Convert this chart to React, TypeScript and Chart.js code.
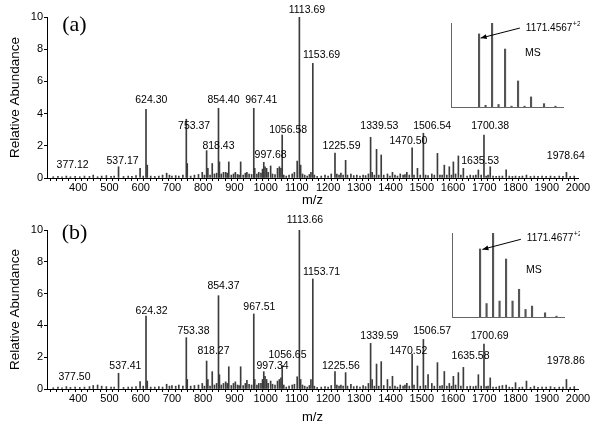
import React, { useEffect, useRef } from "react";
import { Chart, registerables } from "chart.js";

Chart.register(...registerables);

const FONT = "'Liberation Sans', Arial, sans-serif";

// ---- axes ----
const xMin = 300;
const xMax = 2000;
const xTickLabels = [400, 500, 600, 700, 800, 900, 1000, 1100, 1200, 1300, 1400, 1500, 1600, 1700, 1800, 1900, 2000];
const xMinorStep = 20;
const yTicks = [0, 2, 4, 6, 8, 10];

// ---- spectrum peak positions (m/z) shared by both panels ----
const peakMz = [
  320, 335, 348, 362, 375, 390, 405, 420, 436, 448,
  462, 475, 490, 505, 515, 529, 545, 560, 572, 585,
  598, 608, 617, 621, 632, 645, 658, 670, 683, 692,
  700, 712, 722, 735, 746, 749, 760, 772, 785, 797,
  804, 811, 815, 822, 829, 836, 843, 849, 852, 858,
  865, 872, 877, 882, 890, 897, 903, 910, 915, 920,
  928, 935, 940, 947, 955, 962, 965, 972, 978, 985,
  990, 994, 998, 1003, 1008, 1016, 1022, 1030, 1038, 1044,
  1049, 1053, 1058, 1066, 1075, 1085, 1092, 1101, 1108, 1112,
  1118, 1125, 1133, 1140, 1145, 1151, 1156, 1165, 1178, 1190,
  1200, 1210, 1222, 1228, 1235, 1241, 1248, 1256, 1262, 1273,
  1282, 1292, 1302, 1312, 1320, 1329, 1336, 1341, 1348, 1355,
  1362, 1370, 1378, 1390, 1398, 1406, 1414, 1422, 1431, 1440,
  1446, 1452, 1460, 1469, 1475, 1486, 1495, 1505, 1512, 1520,
  1532, 1540, 1550, 1558, 1565, 1572, 1580, 1588, 1595, 1601,
  1608, 1617, 1625, 1633, 1645, 1655, 1665, 1673, 1681, 1690,
  1699, 1706, 1712, 1719, 1728, 1738, 1748, 1758, 1770, 1780,
  1790, 1800, 1812, 1822, 1835, 1848, 1860, 1872, 1885, 1898,
  1912, 1925, 1940, 1952, 1963, 1975, 1988,
];

// ---- panel (a) relative abundance ----
const abundA = [
  0.08, 0.1, 0.08, 0.12, 0.08, 0.1, 0.08, 0.12, 0.1, 0.18,
  0.08, 0.12, 0.15, 0.1, 0.12, 0.7, 0.1, 0.12, 0.1, 0.15,
  0.6, 0.12, 4.27, 0.8, 0.12, 0.1, 0.12, 0.18, 0.3, 0.18,
  0.12, 0.15, 0.12, 0.18, 3.65, 0.9, 0.12, 0.18, 0.22, 0.35,
  0.18, 1.7, 0.6, 0.18, 0.9, 0.25, 0.3, 4.33, 1.0, 0.25,
  0.35, 0.35, 0.3, 1.0, 0.18, 0.25, 0.35, 0.22, 0.18, 1.0,
  0.18, 0.3, 0.35, 0.25, 0.22, 4.33, 0.6, 0.25, 0.35, 0.3,
  0.55, 0.97, 0.7, 0.6, 0.35, 0.75, 0.25, 0.22, 0.6, 0.7,
  0.6, 2.67, 0.18, 0.12, 0.18, 0.25, 0.35, 1.05, 10, 0.8,
  0.25, 0.18, 0.12, 0.22, 0.35, 7.12, 0.18, 0.1, 0.12, 0.18,
  0.12, 0.25, 1.55, 0.25, 0.18, 0.3, 0.18, 1.1, 0.18, 0.25,
  0.15, 0.18, 0.12, 0.18, 0.15, 0.25, 2.53, 0.35, 0.18, 1.78,
  0.18, 1.43, 0.18, 0.25, 0.12, 0.35, 0.18, 0.12, 0.25, 0.18,
  0.22, 0.35, 0.18, 1.88, 0.18, 0.6, 0.18, 2.78, 0.18, 0.15,
  0.25, 0.18, 1.53, 0.18, 0.18, 0.8, 0.18, 0.7, 0.18, 1.0,
  0.25, 1.37, 0.18, 0.6, 0.12, 0.18, 0.15, 0.18, 0.5, 0.18,
  2.67, 0.12, 0.18, 0.7, 0.12, 0.1, 0.12, 0.12, 0.5, 0.12,
  0.1, 0.12, 0.1, 0.12, 0.18, 0.1, 0.12, 0.1, 0.12, 0.1,
  0.12, 0.1, 0.12, 0.1, 0.35, 0.1, 0.12,
];

// ---- panel (b) relative abundance ----
const abundB = [
  0.08, 0.12, 0.08, 0.15, 0.1, 0.12, 0.1, 0.12, 0.15, 0.22,
  0.25, 0.18, 0.15, 0.12, 0.12, 0.99, 0.1, 0.12, 0.12, 0.15,
  0.46, 0.18, 4.59, 0.5, 0.12, 0.12, 0.15, 0.12, 0.3, 0.18,
  0.22, 0.18, 0.25, 0.18, 3.23, 0.6, 0.18, 0.22, 0.25, 0.35,
  0.18, 1.76, 0.6, 0.18, 1.09, 0.25, 0.35, 5.87, 0.9, 0.25,
  0.35, 0.45, 0.35, 1.4, 0.22, 0.35, 0.45, 0.25, 0.22, 1.4,
  0.22, 0.35, 0.55, 0.3, 0.25, 4.72, 0.6, 0.25, 0.35, 0.35,
  0.6, 1.09, 0.8, 0.6, 0.35, 0.5, 0.3, 0.25, 0.5, 0.6,
  0.7, 1.47, 0.25, 0.12, 0.18, 0.25, 0.3, 0.77, 10, 0.6,
  0.25, 0.18, 0.12, 0.22, 0.6, 6.92, 0.18, 0.1, 0.12, 0.15,
  0.12, 0.22, 1.09, 0.25, 0.18, 0.25, 0.18, 1.03, 0.18, 0.3,
  0.15, 0.18, 0.12, 0.22, 0.15, 0.35, 2.87, 0.6, 0.18, 1.57,
  0.18, 1.72, 0.22, 0.6, 0.15, 0.8, 0.18, 0.12, 0.25, 0.18,
  0.25, 0.35, 0.18, 2.2, 0.25, 1.45, 0.18, 3.12, 0.22, 0.9,
  0.35, 0.18, 1.66, 0.18, 0.22, 1.1, 0.18, 0.35, 0.18, 0.8,
  0.25, 1.03, 0.18, 1.36, 0.15, 0.18, 0.15, 0.18, 0.9, 0.18,
  2.83, 0.15, 0.18, 0.7, 0.12, 0.12, 0.18, 0.22, 0.25, 0.12,
  0.1, 0.4, 0.1, 0.12, 0.5, 0.1, 0.18, 0.1, 0.12, 0.12,
  0.15, 0.1, 0.12, 0.12, 0.6, 0.1, 0.15,
];

// ---- peak annotations (text, anchor m/z, anchor abundance) ----
const labelTextA = ["377.12", "537.17", "624.30", "753.37", "818.43", "854.40", "967.41", "997.68", "1056.58", "1113.69", "1153.69", "1225.59", "1339.53", "1470.50", "1506.54", "1635.53", "1700.38", "1978.64"];
const labelMzA = [382, 542, 634, 771, 849, 865, 986, 1016, 1072, 1132, 1179, 1243, 1364, 1457, 1533, 1687, 1719, 1961];
const labelYA = [0.81, 1.07, 4.84, 3.23, 2.0, 4.84, 4.84, 1.43, 2.98, 10.43, 7.64, 2.0, 3.23, 2.32, 3.23, 1.07, 3.23, 1.37];

const labelTextB = ["377.50", "537.41", "624.32", "753.38", "818.27", "854.37", "967.51", "997.34", "1056.65", "1113.66", "1153.71", "1225.56", "1339.59", "1470.52", "1506.57", "1635.58", "1700.69", "1978.86"];
const labelMzB = [388, 551, 635, 769, 833, 865, 980, 1022, 1070, 1126, 1179, 1241, 1364, 1457, 1533, 1656, 1717, 1961];
const labelYB = [0.77, 1.47, 4.92, 3.65, 2.41, 6.48, 5.18, 1.45, 2.14, 10.6, 7.38, 1.47, 3.33, 2.41, 3.65, 2.1, 3.33, 1.76];

// ---- insets: isotope cluster of the precursor (MS) ----
const insetMz = [1171.46, 1171.71, 1171.96, 1172.21, 1172.46, 1172.71, 1172.96, 1173.21, 1173.46, 1173.96, 1174.40];
const insetAbundA = [0.87, 0.02, 1.0, 0.03, 0.69, 0.01, 0.31, 0.01, 0.12, 0.04, 0.01];
const insetAbundB = [0.81, 0.16, 1.0, 0.19, 0.69, 0.19, 0.33, 0.09, 0.13, 0.05, 0.01];
const insetMin = 1170.38;
const insetMax = 1174.69;

const xMinorTicks: number[] = [];
for (let v = xMin; v <= xMax; v += xMinorStep) xMinorTicks.push(v);

const peakLabelPlugin = {
  id: "peakLabels",
  afterDatasetsDraw(chart: any, _args: any, o: any) {
    const { ctx, scales } = chart;
    const x = scales.x;
    const y = scales.y;
    ctx.save();
    ctx.fillStyle = "#000";
    ctx.textAlign = "center";
    ctx.textBaseline = "middle";
    ctx.font = `10.5px ${FONT}`;
    o.texts.forEach((t: string, i: number) => {
      ctx.fillText(t, x.getPixelForValue(o.xs[i]), y.getPixelForValue(o.ys[i]));
    });
    ctx.font = `22px 'Liberation Serif', 'Times New Roman', serif`;
    ctx.fillText(o.panel, x.getPixelForValue(o.panelX), y.getPixelForValue(o.panelY));
    ctx.restore();
  },
};

const insetPlugin = {
  id: "insetNotes",
  afterDatasetsDraw(chart: any, _args: any, o: any) {
    const { ctx, scales } = chart;
    const x = scales.x;
    const y = scales.y;
    const x1 = x.getPixelForValue(o.tail[0]);
    const y1 = y.getPixelForValue(o.tail[1]);
    const x2 = x.getPixelForValue(o.tip[0]);
    const y2 = y.getPixelForValue(o.tip[1]);
    ctx.save();
    ctx.strokeStyle = "#000";
    ctx.fillStyle = "#000";
    ctx.lineWidth = 1;
    ctx.beginPath();
    ctx.moveTo(x1, y1);
    ctx.lineTo(x2, y2);
    ctx.stroke();
    const ang = Math.atan2(y2 - y1, x2 - x1);
    const len = 6;
    const half = 2.5;
    ctx.beginPath();
    ctx.moveTo(x2, y2);
    ctx.lineTo(x2 - len * Math.cos(ang) + half * Math.sin(ang), y2 - len * Math.sin(ang) - half * Math.cos(ang));
    ctx.lineTo(x2 - len * Math.cos(ang) - half * Math.sin(ang), y2 - len * Math.sin(ang) + half * Math.cos(ang));
    ctx.closePath();
    ctx.fill();
    ctx.textAlign = "left";
    ctx.textBaseline = "middle";
    ctx.font = `10px ${FONT}`;
    const lx = x.getPixelForValue(o.labelAt[0]);
    const ly = y.getPixelForValue(o.labelAt[1]);
    ctx.fillText(o.label, lx, ly);
    const w = ctx.measureText(o.label).width;
    ctx.font = `7px ${FONT}`;
    ctx.fillText(o.sup, lx + w + 0.5, ly - 4);
    ctx.font = `10.5px ${FONT}`;
    ctx.fillText("MS", x.getPixelForValue(o.msAt[0]), y.getPixelForValue(o.msAt[1]));
    ctx.restore();
  },
};

function mainConfig(abund: number[], texts: string[], xs: number[], ys: number[], panel: string, panelY: number, padTop: number, xAxisH: number, titleBottom: number): any {
  return {
    type: "bar",
    data: {
      datasets: [
        {
          data: peakMz.map((m, i) => ({ x: m, y: abund[i] })),
          backgroundColor: "#3c3c3c",
          borderWidth: 0,
          barThickness: 1,
        },
      ],
    },
    plugins: [peakLabelPlugin],
    options: {
      responsive: false,
      devicePixelRatio: 1,
      animation: false,
      layout: { padding: { top: padTop, right: 22, left: 0, bottom: 0 } },
      plugins: {
        legend: { display: false },
        tooltip: { enabled: false },
        peakLabels: { texts, xs, ys, panel, panelX: 388, panelY },
      },
      scales: {
        x: {
          type: "linear",
          min: xMin,
          max: xMax,
          offset: false,
          afterBuildTicks: (s: any) => {
            s.ticks = xMinorTicks.map((v) => ({ value: v }));
          },
          afterFit: (s: any) => {
            s.height = xAxisH;
          },
          ticks: {
            autoSkip: false,
            maxRotation: 0,
            minRotation: 0,
            padding: 0,
            color: "#000",
            font: { family: FONT, size: 11 },
            callback: (v: number) => (xTickLabels.includes(v) ? String(v) : ""),
          },
          grid: { drawOnChartArea: false, drawTicks: true, tickLength: 3, color: "#000" },
          border: { display: true, color: "#000", width: 1 },
          title: {
            display: true,
            text: "m/z",
            color: "#000",
            font: { family: FONT, size: 13 },
            padding: { top: 0, bottom: titleBottom },
          },
        },
        y: {
          type: "linear",
          min: 0,
          max: 10,
          afterBuildTicks: (s: any) => {
            s.ticks = yTicks.map((v) => ({ value: v }));
          },
          afterFit: (s: any) => {
            s.width = 47;
          },
          ticks: { padding: 1, color: "#000", font: { family: FONT, size: 11 } },
          grid: { drawOnChartArea: false, drawTicks: true, tickLength: 3, color: "#000" },
          border: { display: true, color: "#000", width: 1 },
          title: {
            display: true,
            text: "Relative Abundance",
            color: "#000",
            font: { family: FONT, size: 13.5 },
            padding: { top: 7, bottom: 0 },
          },
        },
      },
    },
  };
}

function insetConfig(abund: number[], label: string, padLeft: number, padRight: number, notes: any): any {
  return {
    type: "bar",
    data: {
      datasets: [
        {
          data: insetMz.map((m, i) => ({ x: m, y: abund[i] })),
          backgroundColor: "#555",
          borderWidth: 0,
          barThickness: 1.5,
        },
      ],
    },
    plugins: [insetPlugin],
    options: {
      responsive: false,
      devicePixelRatio: 1,
      animation: false,
      layout: { padding: { top: 8, bottom: 8, left: padLeft, right: padRight } },
      plugins: {
        legend: { display: false },
        tooltip: { enabled: false },
        insetNotes: { label, sup: "+2", ...notes },
      },
      scales: {
        x: {
          type: "linear",
          min: insetMin,
          max: insetMax,
          offset: false,
          ticks: { display: false },
          grid: { display: false, drawTicks: false },
          border: { display: true, color: "#666", width: 1 },
          afterFit: (s: any) => {
            s.height = 0;
          },
        },
        y: {
          type: "linear",
          min: 0,
          max: 1,
          ticks: { display: false },
          grid: { display: false, drawTicks: false },
          border: { display: true, color: "#666", width: 1 },
          afterFit: (s: any) => {
            s.width = 0;
          },
        },
      },
    },
  };
}

export default function App() {
  const refA = useRef<HTMLCanvasElement>(null);
  const refB = useRef<HTMLCanvasElement>(null);
  const refIA = useRef<HTMLCanvasElement>(null);
  const refIB = useRef<HTMLCanvasElement>(null);

  useEffect(() => {
    const charts = [
      new Chart(refA.current as HTMLCanvasElement, mainConfig(abundA, labelTextA, labelMzA, labelYA, "(a)", 9.5, 17, 36, 6)),
      new Chart(refB.current as HTMLCanvasElement, mainConfig(abundB, labelTextB, labelMzB, labelYB, "(b)", 9.8, 16, 40, 4)),
      new Chart(
        refIA.current as HTMLCanvasElement,
        insetConfig(insetAbundA, "1171.4567", 11, 17, {
          tail: [1173.03, 0.94],
          tip: [1171.52, 0.82],
          labelAt: [1173.26, 0.94],
          msAt: [1173.23, 0.64],
        })
      ),
      new Chart(
        refIB.current as HTMLCanvasElement,
        insetConfig(insetAbundB, "1171.4677", 12, 16, {
          tail: [1173.03, 0.925],
          tip: [1171.55, 0.805],
          labelAt: [1173.26, 0.94],
          msAt: [1173.23, 0.56],
        })
      ),
    ];
    return () => charts.forEach((c) => c.destroy());
  }, []);

  const abs = (l: number, t: number, w: number, h: number): React.CSSProperties => ({
    position: "absolute",
    left: l,
    top: t,
    width: w,
    height: h,
  });

  return (
    <div style={{ position: "fixed", left: 0, top: 0, width: 600, height: 429, background: "#fff", overflow: "hidden" }}>
      <canvas ref={refA} width={600} height={214} style={abs(0, 0, 600, 214)} />
      <canvas ref={refB} width={600} height={215} style={abs(0, 214, 600, 215)} />
      <canvas ref={refIA} width={140} height={100} style={abs(440, 15, 140, 100)} />
      <canvas ref={refIB} width={140} height={100} style={abs(440, 225, 140, 100)} />
    </div>
  );
}
